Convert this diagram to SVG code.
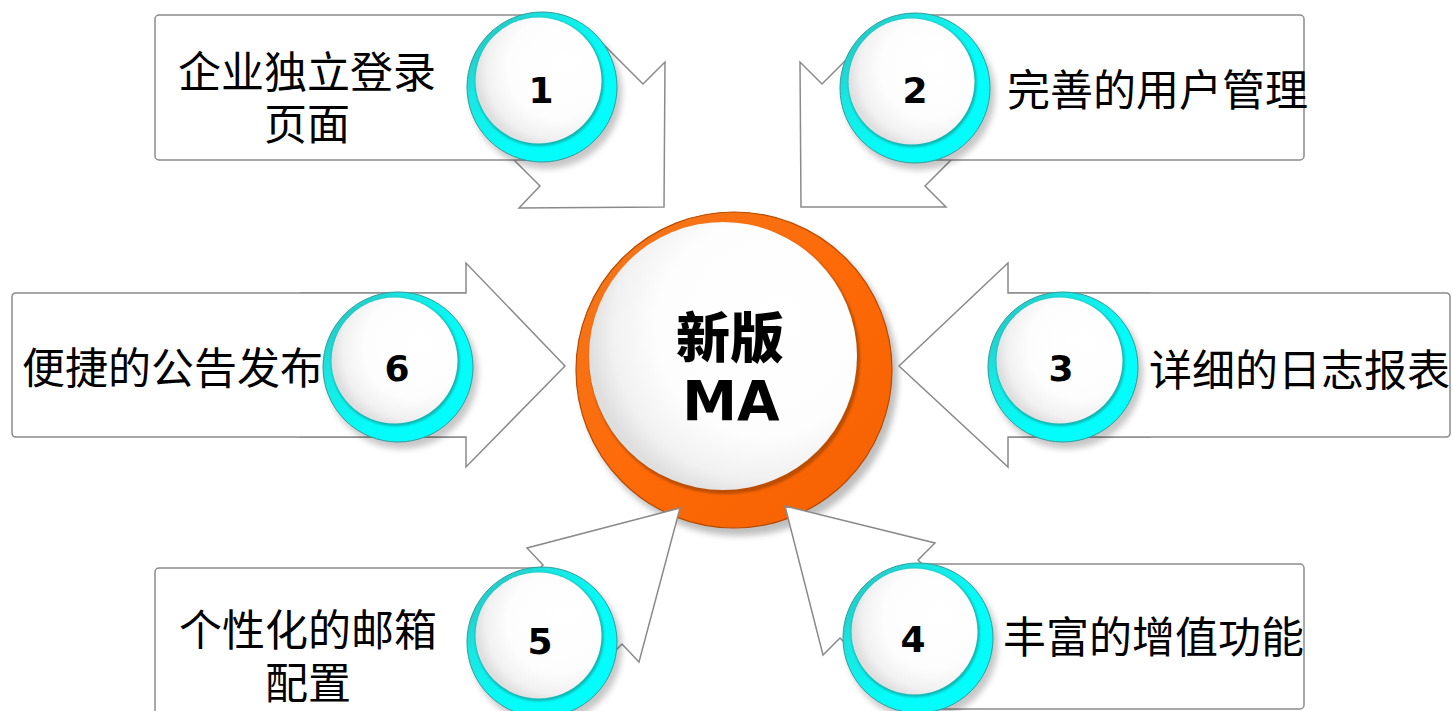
<svg xmlns="http://www.w3.org/2000/svg" xmlns:xlink="http://www.w3.org/1999/xlink" width="1453" height="711" viewBox="0 0 1453 711">
<style>
.box{fill:#ffffff;stroke:#8c8c8c;stroke-width:1.5}
.arr{fill:#ffffff;stroke:#8a8a8a;stroke-width:1.5;stroke-linejoin:miter}
.lbl{font-family:"Noto Sans CJK SC","Noto Sans",sans-serif;font-size:43px;fill:#000}
.num{font-family:"DejaVu Sans",Verdana,sans-serif;font-weight:bold;font-size:36px;fill:#000;text-anchor:middle}
.mid{text-anchor:middle}
</style>
<defs>
<filter id="blur" x="-30%" y="-30%" width="160%" height="160%"><feGaussianBlur stdDeviation="3"/></filter>
<filter id="blur1" x="-30%" y="-30%" width="160%" height="160%"><feGaussianBlur stdDeviation="1.2"/></filter>
<linearGradient id="cyan" x1="0" y1="0" x2="1" y2="1">
<stop offset="0" stop-color="#2fb3b0"/>
<stop offset="0.3" stop-color="#18e8e4"/>
<stop offset="0.6" stop-color="#04fcf9"/>
<stop offset="1" stop-color="#00ffff"/>
</linearGradient>
<linearGradient id="orange" x1="0" y1="0" x2="1" y2="1">
<stop offset="0" stop-color="#f0781e"/>
<stop offset="0.5" stop-color="#ff6a08"/>
<stop offset="1" stop-color="#f45f00"/>
</linearGradient>
<radialGradient id="white" cx="0.62" cy="0.42" r="0.62" fx="0.72" fy="0.35">
<stop offset="0" stop-color="#ffffff"/>
<stop offset="0.65" stop-color="#fdfdfd"/>
<stop offset="0.88" stop-color="#f1f1f1"/>
<stop offset="1" stop-color="#dedede"/>
</radialGradient>
<g id="badge">
<circle cx="4" cy="6" r="76" fill="#000" opacity="0.22" filter="url(#blur)"/>
<circle r="75" fill="url(#cyan)" stroke="#2e9e9b" stroke-width="1"/>
<circle cx="-2.5" cy="-5" r="64.2" fill="#1b8784" opacity="0.6" filter="url(#blur1)"/>
<circle cx="-3.5" cy="-6.5" r="63" fill="url(#white)"/>
</g>
</defs>

<g id="center">
<circle cx="739" cy="377" r="159" fill="#000" opacity="0.25" filter="url(#blur)"/>
<circle cx="734" cy="370" r="158" fill="url(#orange)" stroke="#b84a00" stroke-width="1.2"/>
<circle cx="725" cy="359" r="135.2" fill="#8a3a00" opacity="0.55" filter="url(#blur1)"/>
<circle cx="723" cy="356" r="134" fill="url(#white)"/>
<text class="mid"><tspan x="730" y="358" style="font-family:'Noto Sans CJK SC',sans-serif;font-weight:900;font-size:54px">新版</tspan><tspan x="731" y="420" style="font-family:'DejaVu Sans',sans-serif;font-weight:bold;font-size:55px">MA</tspan></text>
</g>

<g id="connectors">
<polygon class="arr" points="665,62 664,207 519,208 540,186 492,138 594.5,35.5 643,84"/>
<polygon class="arr" points="800,62 801,207 946,207 925,186 973,138 870.5,35.5 822,84"/>
<polygon class="arr" points="300,293 466,293 466,263 565,366 466,467 466,437 300,437"/>
<polygon class="arr" points="1150,293 1008,293 1008,263 899,366 1008,467 1008,437 1150,437"/>
<polygon class="arr" points="680,508 639,662 622,644 573,693 494,614 543,565 527,548"/>
<polygon class="arr" points="785,506 935,543 918,560 959,601 881,679 840,638 823,655"/>
</g>

<g id="node1">
<rect class="box" x="155" y="15" width="387" height="145" rx="4"/>
<use xlink:href="#badge" x="542" y="87"/>
<text class="num" x="541" y="103">1</text>
<text class="lbl mid"><tspan x="307" y="88">企业独立登录</tspan><tspan x="307" y="140">页面</tspan></text>
</g>

<g id="node2">
<rect class="box" x="915" y="15" width="389" height="145" rx="4"/>
<use xlink:href="#badge" x="915" y="88"/>
<text class="num" x="915" y="103">2</text>
<text class="lbl" x="1007" y="106">完善的用户管理</text>
</g>

<g id="node3">
<path class="box" d="M1008,293 H1446 Q1450,293 1450,297 V433 Q1450,437 1446,437 H1008"/>
<use xlink:href="#badge" x="1063" y="367"/>
<text class="num" x="1061" y="381">3</text>
<text class="lbl" x="1149" y="386">详细的日志报表</text>
</g>

<g id="node4">
<rect class="box" x="918" y="564" width="386" height="145" rx="4"/>
<use xlink:href="#badge" x="918" y="638"/>
<text class="num" x="913" y="652">4</text>
<text class="lbl" x="1003" y="653">丰富的增值功能</text>
</g>

<g id="node5">
<rect class="box" x="155" y="568" width="387" height="150" rx="4"/>
<use xlink:href="#badge" x="542" y="642"/>
<text class="num" x="540" y="654">5</text>
<text class="lbl mid"><tspan x="308" y="646">个性化的邮箱</tspan><tspan x="308" y="699">配置</tspan></text>
</g>

<g id="node6">
<path class="box" d="M466,293 H16 Q12,293 12,297 V433 Q12,437 16,437 H466"/>
<use xlink:href="#badge" x="398" y="367"/>
<text class="num" x="397" y="381">6</text>
<text class="lbl" x="22" y="384">便捷的公告发布</text>
</g>
</svg>
